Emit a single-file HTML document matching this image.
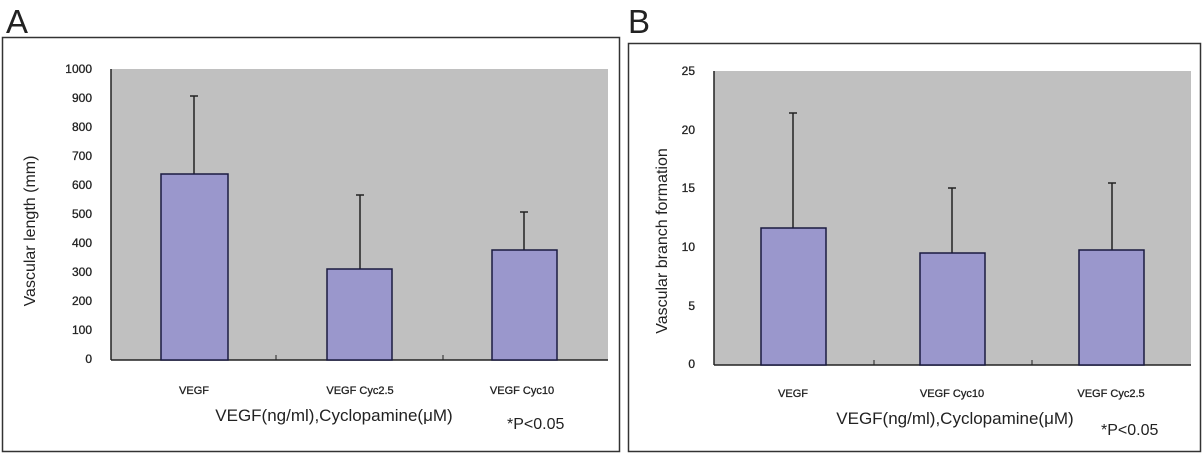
<!DOCTYPE html>
<html><head><meta charset="utf-8"><style>html,body{margin:0;padding:0;background:#fff}svg{display:block}</style></head><body>
<svg width="1203" height="455" viewBox="0 0 1203 455" xmlns="http://www.w3.org/2000/svg" font-family="Liberation Sans, DejaVu Sans, sans-serif">
<!-- Panel A -->
<text x="6" y="33" font-size="33" fill="#222">A</text>
<rect x="2.5" y="37.5" width="617" height="414" fill="#fff" stroke="#333" stroke-width="1.5"/>
<rect x="111" y="69" width="497" height="291" fill="#c0c0c0"/>
<line x1="111" y1="69" x2="111" y2="360" stroke="#222" stroke-width="1.5"/>
<line x1="111" y1="360" x2="608" y2="360" stroke="#222" stroke-width="1.5"/>
<line x1="276" y1="355" x2="276" y2="360" stroke="#222"/>
<line x1="443" y1="355" x2="443" y2="360" stroke="#222"/>
<g font-size="12" fill="#222" text-anchor="end" stroke="#222" stroke-width="0.3">
<text x="92" y="73">1000</text><text x="92" y="102">900</text><text x="92" y="131">800</text><text x="92" y="160">700</text><text x="92" y="189">600</text><text x="92" y="218">500</text><text x="92" y="247">400</text><text x="92" y="276">300</text><text x="92" y="305">200</text><text x="92" y="334">100</text><text x="92" y="363">0</text>
</g>
<g stroke="#222" stroke-width="1.5">
<line x1="194" y1="96" x2="194" y2="174"/><line x1="190" y1="96" x2="198" y2="96"/>
<line x1="360" y1="195" x2="360" y2="269"/><line x1="356" y1="195" x2="364" y2="195"/>
<line x1="524" y1="212" x2="524" y2="250"/><line x1="520" y1="212" x2="528" y2="212"/>
</g>
<g fill="#9a97cc" stroke="#1a1a40" stroke-width="1.5">
<rect x="161" y="174" width="67" height="186"/>
<rect x="327" y="269" width="65" height="91"/>
<rect x="492" y="250" width="65" height="110"/>
</g>
<g font-size="11" fill="#222" text-anchor="middle" stroke="#222" stroke-width="0.3">
<text x="194" y="394">VEGF</text><text x="360" y="394">VEGF Cyc2.5</text><text x="522" y="394">VEGF Cyc10</text>
</g>
<text x="334" y="421" font-size="17" fill="#222" text-anchor="middle">VEGF(ng/ml),Cyclopamine(μM)</text>
<text x="507" y="429" font-size="16" fill="#222">*P&lt;0.05</text>
<text transform="translate(35,231) rotate(-90)" font-size="16" fill="#222" text-anchor="middle">Vascular length (mm)</text>
<!-- Panel B -->
<text x="628" y="33" font-size="33" fill="#222">B</text>
<rect x="628.5" y="43.5" width="572" height="408" fill="#fff" stroke="#333" stroke-width="1.5"/>
<rect x="714" y="71" width="477" height="294" fill="#c0c0c0"/>
<line x1="714" y1="71" x2="714" y2="365" stroke="#222" stroke-width="1.5"/>
<line x1="714" y1="365" x2="1191" y2="365" stroke="#222" stroke-width="1.5"/>
<line x1="874" y1="360" x2="874" y2="365" stroke="#222"/>
<line x1="1032" y1="360" x2="1032" y2="365" stroke="#222"/>
<g font-size="12" fill="#222" text-anchor="end" stroke="#222" stroke-width="0.3">
<text x="695" y="75">25</text><text x="695" y="134">20</text><text x="695" y="192">15</text><text x="695" y="251">10</text><text x="695" y="310">5</text><text x="695" y="368">0</text>
</g>
<g stroke="#222" stroke-width="1.5">
<line x1="793" y1="113" x2="793" y2="228"/><line x1="789" y1="113" x2="797" y2="113"/>
<line x1="952" y1="188" x2="952" y2="253"/><line x1="948" y1="188" x2="956" y2="188"/>
<line x1="1112" y1="183" x2="1112" y2="250"/><line x1="1108" y1="183" x2="1116" y2="183"/>
</g>
<g fill="#9a97cc" stroke="#1a1a40" stroke-width="1.5">
<rect x="761" y="228" width="65" height="137"/>
<rect x="920" y="253" width="65" height="112"/>
<rect x="1079" y="250" width="65" height="115"/>
</g>
<g font-size="11" fill="#222" text-anchor="middle" stroke="#222" stroke-width="0.3">
<text x="793" y="397">VEGF</text><text x="952" y="397">VEGF Cyc10</text><text x="1111" y="397">VEGF Cyc2.5</text>
</g>
<text x="955" y="424" font-size="17" fill="#222" text-anchor="middle">VEGF(ng/ml),Cyclopamine(μM)</text>
<text x="1101" y="435" font-size="16" fill="#222">*P&lt;0.05</text>
<text transform="translate(667,241) rotate(-90)" font-size="16" fill="#222" text-anchor="middle">Vascular branch formation</text>
</svg>
</body></html>
